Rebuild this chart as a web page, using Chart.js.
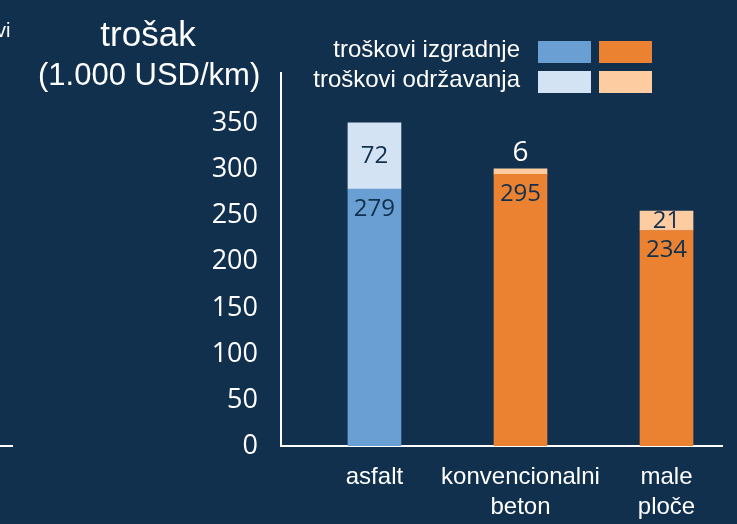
<!DOCTYPE html>
<html>
<head>
<meta charset="utf-8">
<script src="https://cdn.jsdelivr.net/npm/chart.js@4.4.1/dist/chart.umd.min.js"></script>
<style>
  html, body { margin:0; padding:0; background:#11304e; }
  #wrap { position:relative; width:737px; height:524px; overflow:hidden; background:#11304e; }
  canvas { position:absolute; left:0; top:0; }
  .t { position:absolute; color:#fff; font-family:"Liberation Sans", Arial, sans-serif; line-height:1; white-space:nowrap; }
  .sw { position:absolute; width:53px; height:22px; }
</style>
</head>
<body>
<div id="wrap">
  <canvas id="c" width="737" height="524"></canvas>
  <div class="t" style="left:-4px; top:20px; font-size:20px;">vi</div>
  <div style="position:absolute; left:0; top:445px; width:13px; height:2px; background:#fff;"></div>
  <div class="t" id="title1" style="left:38px; width:220px; text-align:center; top:16px; font-size:35px;"></div>
  <div class="t" id="title2" style="left:38px; width:220px; text-align:center; top:59px; font-size:31px;"></div>
  <div class="t" id="leg1" style="right:217px; top:37px; font-size:24px;"></div>
  <div class="t" id="leg2" style="right:217px; top:67px; font-size:24px;"></div>
  <div class="sw" style="left:538px; top:41px; background:#6a9fd3;"></div>
  <div class="sw" style="left:599px; top:41px; background:#eb8231;"></div>
  <div class="sw" style="left:538px; top:71px; background:#d3e3f4;"></div>
  <div class="sw" style="left:599px; top:71px; background:#fdcca1;"></div>
</div>
<script>
// ---- data ----
const titleLines = ['trošak', '(1.000 USD/km)'];
const seriesNames = ['troškovi izgradnje', 'troškovi održavanja'];
const categories = [['asfalt'], ['konvencionalni', 'beton'], ['male', 'ploče']];
const construction = [279, 295, 234];
const maintenance = [72, 6, 21];
const yTicks = [0, 50, 100, 150, 200, 250, 300, 350];

// ---- styles ----
const BG = '#11304e';
const constructionColors = ['#6a9fd3', '#eb8231', '#eb8231'];
const maintenanceColors = ['#d3e3f4', '#fdcca1', '#fdcca1'];

document.getElementById('title1').textContent = titleLines[0];
document.getElementById('title2').textContent = titleLines[1];
document.getElementById('leg1').textContent = seriesNames[0];
document.getElementById('leg2').textContent = seriesNames[1];

const valueLabels = {
  id: 'valueLabels',
  afterDatasetsDraw(chart) {
    const ctx = chart.ctx;
    ctx.save();
    ctx.textAlign = 'center';
    ctx.textBaseline = 'middle';
    chart.data.datasets.forEach((ds, di) => {
      const meta = chart.getDatasetMeta(di);
      meta.data.forEach((bar, i) => {
        const v = ds.data[i].y;
        let y, color, size;
        if (di === 0) {
          y = bar.y + 20; color = BG; size = 24;
        } else if (v < 10) {
          y = bar.y - 16; color = '#ffffff'; size = 28;
        } else {
          y = (bar.y + bar.base) / 2; color = BG; size = 24;
        }
        ctx.font = size + 'px "Open Sans", sans-serif';
        ctx.fillStyle = color;
        ctx.fillText(String(v), bar.x, y);
      });
    });
    ctx.restore();
  }
};

new Chart(document.getElementById('c'), {
  type: 'bar',
  data: {
    datasets: [
      { label: seriesNames[0], data: construction.map((v, i) => ({ x: i, y: v })),
        backgroundColor: constructionColors, borderWidth: 0, barThickness: 53 },
      { label: seriesNames[1], data: maintenance.map((v, i) => ({ x: i, y: v })),
        backgroundColor: maintenanceColors, borderWidth: 0, barThickness: 53 }
    ]
  },
  options: {
    responsive: false,
    animation: false,
    layout: { padding: { left: 0, top: 73, right: 15, bottom: 0 } },
    plugins: { legend: { display: false }, tooltip: { enabled: false }, title: { display: false } },
    scales: {
      x: {
        type: 'linear', stacked: true, min: -0.64, max: 2.38, offset: false,
        grid: { display: false, drawTicks: false, offset: false },
        border: { display: true, color: '#ffffff', width: 2 },
        ticks: {
          stepSize: 1, includeBounds: false, autoSkip: false, maxRotation: 0,
          color: '#ffffff', padding: 16,
          font: { family: '"Liberation Sans", Arial, sans-serif', size: 24, lineHeight: 1.25 },
          callback: (v) => (Number.isInteger(v) && categories[v]) ? categories[v] : ''
        },
        afterBuildTicks: (s) => { s.ticks = categories.map((c, i) => ({ value: i })); },
        afterFit: (s) => { s.height = 78; }
      },
      y: {
        type: 'linear', stacked: true, min: 0, max: 405,
        grid: { display: false, drawTicks: false },
        border: { display: true, color: '#ffffff', width: 2 },
        afterBuildTicks: (s) => { s.ticks = yTicks.map(v => ({ value: v })); },
        ticks: {
          color: '#ffffff', padding: 23,
          font: { family: '"Open Sans", sans-serif', size: 27 }
        },
        afterFit: (s) => { s.width = 281; }
      }
    }
  },
  plugins: [valueLabels]
});
</script>
</body>
</html>
